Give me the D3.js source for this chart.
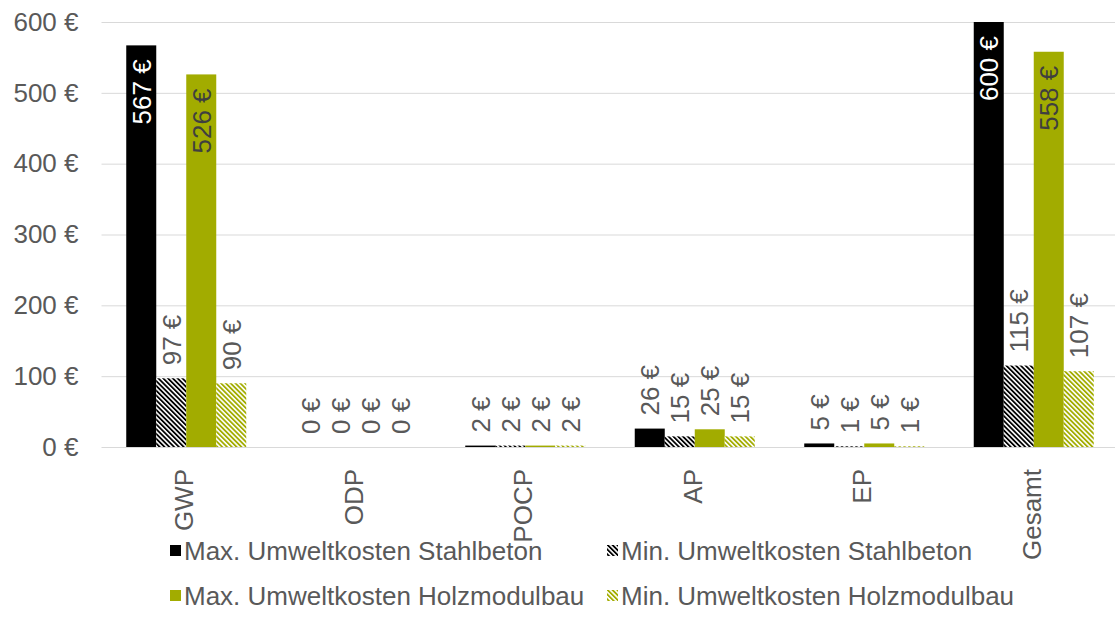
<!DOCTYPE html>
<html>
<head>
<meta charset="utf-8">
<script src="https://cdn.jsdelivr.net/npm/d3@7"></script>
<style>
  html, body { margin: 0; padding: 0; background: #ffffff; }
  svg { display: block; }
  text { font-family: "Liberation Sans", Arial, sans-serif; }
</style>
</head>
<body>
<svg id="chart" width="1115" height="637"></svg>
<script>
// Environmental cost indicators per category
const categories = ["GWP", "ODP", "POCP", "AP", "EP", "Gesamt"];
const seriesNames = [
  "Max. Umweltkosten Stahlbeton",
  "Min. Umweltkosten Stahlbeton",
  "Max. Umweltkosten Holzmodulbau",
  "Min. Umweltkosten Holzmodulbau"
];
const maxStahlbeton = [567, 0, 2, 26, 5, 600];
const minStahlbeton = [97, 0, 2, 15, 1, 115];
const maxHolzmodulbau = [526, 0, 2, 25, 5, 558];
const minHolzmodulbau = [90, 0, 2, 15, 1, 107];
const yTicks = [0, 100, 200, 300, 400, 500, 600];

const seriesValues = [maxStahlbeton, minStahlbeton, maxHolzmodulbau, minHolzmodulbau];
const seriesFill = ["#000000", "url(#hatchBlack)", "#a2ac00", "url(#hatchGreen)"];
const insideLabelColor = ["#ffffff", null, "#3f3f3f", null];

const W = 1115, H = 637;
const plot = { left: 101.5, right: 1118.5, top: 22, bottom: 447 };
const textColor = "#595959";
const fontSize = 26;

const svg = d3.select("#chart");

// Diagonal hatch patterns
const defs = svg.append("defs");
function hatch(id, stripe) {
  const p = defs.append("pattern")
    .attr("id", id)
    .attr("patternUnits", "userSpaceOnUse")
    .attr("width", 3.4).attr("height", 3.4)
    .attr("patternTransform", "rotate(-45)");
  p.append("rect").attr("width", 3.4).attr("height", 3.4).attr("fill", "#ffffff");
  p.append("rect").attr("width", 1.8).attr("height", 3.4).attr("fill", stripe);
}
hatch("hatchBlack", "#000000");
hatch("hatchGreen", "#a2ac00");

// Scales
const x = d3.scaleBand()
  .domain(categories)
  .range([plot.left, plot.right])
  .paddingInner(0.292)
  .paddingOuter(0.146);
const xSeries = d3.scaleBand()
  .domain(d3.range(seriesNames.length))
  .range([0, x.bandwidth()]);
const y = d3.scaleLinear().domain([0, 600]).range([plot.bottom, plot.top]);

// Gridlines and y tick labels
const yAxis = d3.axisLeft(y)
  .tickValues(yTicks)
  .tickFormat(d => d + " €")
  .tickSizeInner(-(W - plot.left))
  .tickSizeOuter(0)
  .tickPadding(23);
const gy = svg.append("g")
  .attr("transform", `translate(${plot.left},0)`)
  .call(yAxis);
gy.select(".domain").remove();
gy.selectAll(".tick line").attr("stroke", "#d9d9d9").attr("stroke-width", 1);
gy.selectAll(".tick text")
  .attr("fill", textColor)
  .attr("font-size", fontSize)
  .attr("font-family", "Liberation Sans, Arial, sans-serif");

// Bars
const groups = svg.append("g").selectAll("g")
  .data(seriesValues)
  .join("g")
  .attr("fill", (d, i) => seriesFill[i]);

groups.each(function (vals, si) {
  d3.select(this).selectAll("rect")
    .data(vals)
    .join("rect")
    .attr("x", (v, ci) => x(categories[ci]) + xSeries(si))
    .attr("y", v => y(v))
    .attr("width", xSeries.bandwidth())
    .attr("height", v => y(0) - y(v));
});

// Value labels, rotated
const labels = svg.append("g")
  .attr("font-size", fontSize);
seriesValues.forEach((vals, si) => {
  vals.forEach((v, ci) => {
    const cx = x(categories[ci]) + xSeries(si) + xSeries.bandwidth() / 2;
    const inside = v > 150;
    const yy = inside ? y(v) + 14 : y(v) - 13;
    labels.append("text")
      .attr("transform", `translate(${cx},${yy}) rotate(-90)`)
      .attr("text-anchor", inside ? "end" : "start")
      .attr("dy", "0.37em")
      .attr("fill", inside ? insideLabelColor[si] : textColor)
      .text(v + " €");
  });
});

// Category axis labels
const xAxis = d3.axisBottom(x).tickSize(0).tickPadding(0);
const gx = svg.append("g")
  .attr("transform", `translate(0,${plot.bottom})`)
  .call(xAxis);
gx.select(".domain").remove();
gx.selectAll(".tick text")
  .attr("fill", textColor)
  .attr("font-size", fontSize)
  .attr("font-family", "Liberation Sans, Arial, sans-serif")
  .attr("text-anchor", "end")
  .attr("y", null)
  .attr("transform", "translate(0,22) rotate(-90)")
  .attr("dy", "0.26em");

// Legend
const legendItems = [
  { name: seriesNames[0], fill: seriesFill[0], x: 170, y: 560 },
  { name: seriesNames[1], fill: seriesFill[1], x: 607, y: 560 },
  { name: seriesNames[2], fill: seriesFill[2], x: 170, y: 605 },
  { name: seriesNames[3], fill: seriesFill[3], x: 607, y: 605 }
];
const lg = svg.append("g").selectAll("g")
  .data(legendItems)
  .join("g")
  .attr("transform", d => `translate(${d.x},${d.y})`);
lg.append("rect")
  .attr("x", 0).attr("y", -15)
  .attr("width", 11).attr("height", 11)
  .attr("fill", d => d.fill);
lg.append("text")
  .attr("x", 14).attr("y", 0)
  .attr("fill", textColor)
  .attr("font-size", fontSize)
  .text(d => d.name);
</script>
</body>
</html>
